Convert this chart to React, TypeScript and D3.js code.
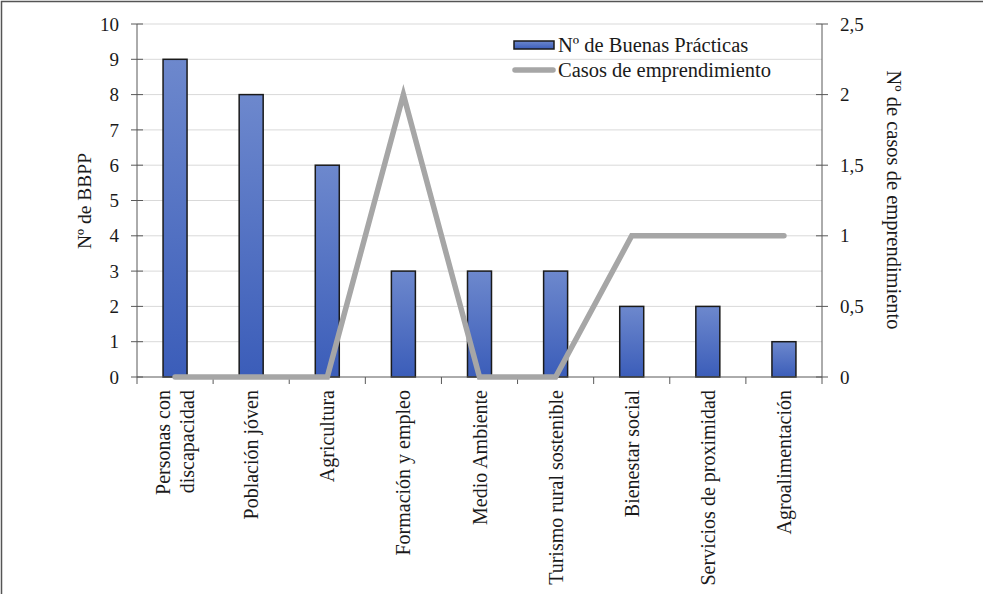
import React, { useEffect, useRef } from "react";
import * as d3 from "d3";

const categories = [
  ["Personas con", "discapacidad"],
  ["Población jóven"],
  ["Agricultura"],
  ["Formación y empleo"],
  ["Medio Ambiente"],
  ["Turismo rural sostenible"],
  ["Bienestar social"],
  ["Servicios de proximidad"],
  ["Agroalimentación"],
];
const buenasPracticas = [9, 8, 6, 3, 3, 3, 2, 2, 1];
const casosEmprendimiento = [0, 0, 0, 2, 0, 0, 1, 1, 1];
const leftTicks = [0, 1, 2, 3, 4, 5, 6, 7, 8, 9, 10];
const rightTicks = [0, 0.5, 1, 1.5, 2, 2.5];

const width = 983;
const height = 594;
const font = "'Liberation Serif', 'Times New Roman', serif";

export default function App() {
  const ref = useRef(null);

  useEffect(() => {
    const svg = d3.select(ref.current);
    svg.selectAll("*").remove();

    const left = 137, right = 822, top = 24, bottom = 377;
    const keys = categories.map((c) => c.join(" "));
    const x = d3.scaleBand().domain(keys).range([left, right]);
    const y = d3.scaleLinear().domain([0, 10]).range([bottom, top]);
    const y2 = d3.scaleLinear().domain([0, 2.5]).range([bottom, top]);

    const defs = svg.append("defs");
    const grad = defs.append("linearGradient").attr("id", "barGrad")
      .attr("x1", 0).attr("y1", 0).attr("x2", 0).attr("y2", 1);
    grad.append("stop").attr("offset", "0%").attr("stop-color", "#6d88cd");
    grad.append("stop").attr("offset", "100%").attr("stop-color", "#3b5db9");

    // frame (top and left edges only)
    svg.append("path")
      .attr("d", `M1.5,${height} V1.5 H${width}`)
      .attr("fill", "none").attr("stroke", "#555").attr("stroke-width", 1.5);

    // gridlines
    svg.append("g").selectAll("line").data(leftTicks.slice(1)).join("line")
      .attr("x1", left).attr("x2", right)
      .attr("y1", (d) => y(d)).attr("y2", (d) => y(d))
      .attr("stroke", "#d9d9d9").attr("stroke-width", 1);

    // bars
    const bw = 24;
    svg.append("g").selectAll("rect").data(buenasPracticas).join("rect")
      .attr("x", (d, i) => x(keys[i]) + x.bandwidth() / 2 - bw / 2)
      .attr("y", (d) => y(d))
      .attr("width", bw)
      .attr("height", (d) => bottom - y(d))
      .attr("fill", "url(#barGrad)")
      .attr("stroke", "#1a1a1a").attr("stroke-width", 1.5);

    // left axis
    const gl = svg.append("g").attr("transform", `translate(${left},0)`);
    gl.append("line").attr("y1", top).attr("y2", bottom).attr("stroke", "#595959");
    gl.selectAll("line.t").data(leftTicks).join("line").attr("class", "t")
      .attr("x1", -6).attr("x2", 6)
      .attr("y1", (d) => y(d)).attr("y2", (d) => y(d)).attr("stroke", "#595959");
    gl.selectAll("text").data(leftTicks).join("text")
      .attr("x", -18).attr("y", (d) => y(d)).attr("dy", "0.35em")
      .attr("text-anchor", "end").attr("font-family", font).attr("font-size", 19)
      .attr("fill", "#1a1a1a").text((d) => d);

    // right axis
    const gr = svg.append("g").attr("transform", `translate(${right},0)`);
    gr.append("line").attr("y1", top).attr("y2", bottom).attr("stroke", "#595959");
    gr.selectAll("line.t").data(rightTicks).join("line").attr("class", "t")
      .attr("x1", -6).attr("x2", 6)
      .attr("y1", (d) => y2(d)).attr("y2", (d) => y2(d)).attr("stroke", "#595959");
    gr.selectAll("text").data(rightTicks).join("text")
      .attr("x", 18).attr("y", (d) => y2(d)).attr("dy", "0.35em")
      .attr("text-anchor", "start").attr("font-family", font).attr("font-size", 19)
      .attr("fill", "#1a1a1a").text((d) => String(d).replace(".", ","));

    // x axis
    const gx = svg.append("g");
    gx.append("line").attr("x1", left).attr("x2", right)
      .attr("y1", bottom).attr("y2", bottom).attr("stroke", "#595959");
    const bounds = keys.map((k) => x(k)).concat([right]);
    gx.selectAll("line.t").data(bounds).join("line").attr("class", "t")
      .attr("x1", (d) => d).attr("x2", (d) => d)
      .attr("y1", bottom).attr("y2", bottom + 7).attr("stroke", "#595959");

    // category labels
    categories.forEach((lines, i) => {
      const cx = x(keys[i]) + x.bandwidth() / 2;
      const t = svg.append("text")
        .attr("transform", `translate(${cx},${bottom + 13}) rotate(-90)`)
        .attr("text-anchor", "end").attr("font-family", font).attr("font-size", 20)
        .attr("fill", "#1a1a1a");
      const n = lines.length;
      lines.forEach((l, j) => {
        t.append("tspan").attr("x", 0)
          .attr("y", (j - (n - 1) / 2) * 24)
          .attr("dy", "0.35em").text(l);
      });
    });

    // line series
    const line = d3.line()
      .x((d, i) => x(keys[i]) + x.bandwidth() / 2)
      .y((d) => y2(d));
    svg.append("path").datum(casosEmprendimiento)
      .attr("d", line)
      .attr("fill", "none").attr("stroke", "#a6a6a6").attr("stroke-width", 5.5)
      .attr("stroke-linecap", "round").attr("stroke-linejoin", "miter");

    // axis titles
    svg.append("text")
      .attr("transform", `translate(91,201) rotate(-90)`)
      .attr("text-anchor", "middle").attr("font-family", font).attr("font-size", 19.5)
      .attr("fill", "#1a1a1a").text("Nº de BBPP");
    svg.append("text")
      .attr("transform", `translate(887,200) rotate(90)`)
      .attr("text-anchor", "middle").attr("font-family", font).attr("font-size", 20.5)
      .attr("fill", "#1a1a1a").text("Nº de casos de emprendimiento");

    // legend
    const lg = svg.append("g");
    lg.append("rect").attr("x", 514).attr("y", 41).attr("width", 40).attr("height", 8)
      .attr("fill", "url(#barGrad)").attr("stroke", "#1a1a1a").attr("stroke-width", 1.5);
    lg.append("text").attr("x", 558).attr("y", 45).attr("dy", "0.35em")
      .attr("font-family", font).attr("font-size", 20.5).attr("fill", "#1a1a1a")
      .text("Nº de Buenas Prácticas");
    lg.append("line").attr("x1", 515).attr("x2", 553).attr("y1", 70).attr("y2", 70)
      .attr("stroke", "#a6a6a6").attr("stroke-width", 5.5).attr("stroke-linecap", "round");
    lg.append("text").attr("x", 558).attr("y", 70).attr("dy", "0.35em")
      .attr("font-family", font).attr("font-size", 20.5).attr("fill", "#1a1a1a")
      .text("Casos de emprendimiento");
  }, []);

  return (
    <svg ref={ref} width={width} height={height}
      style={{ position: "absolute", left: 0, top: 0, background: "#fff" }} />
  );
}
